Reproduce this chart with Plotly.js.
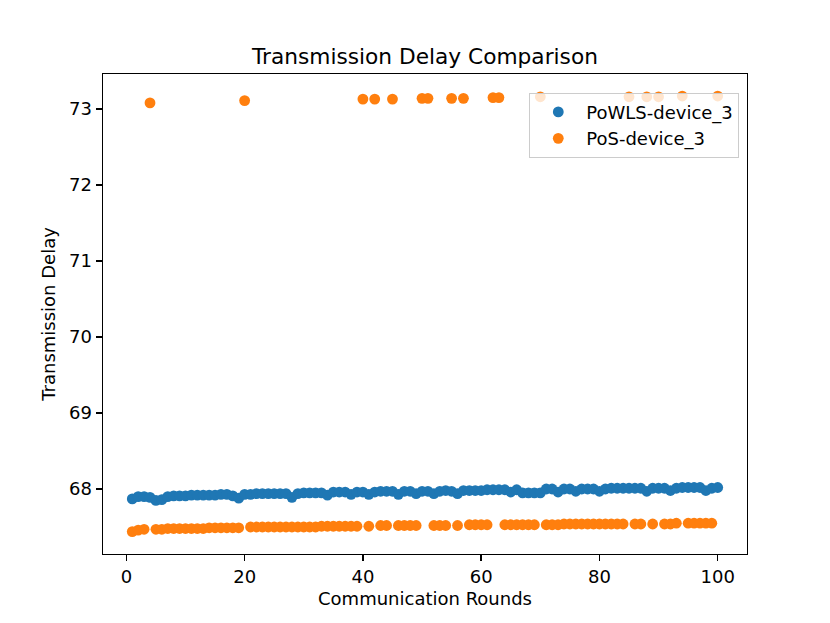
<!DOCTYPE html>
<html>
<head>
<meta charset="utf-8">
<script src="https://cdn.plot.ly/plotly-3.0.1.min.js"></script>
<style>
  html, body { margin: 0; padding: 0; background: #fff; }
  #chart { width: 830px; height: 623px; }
</style>
</head>
<body>
<div id="chart"></div>
<script>
// communication rounds 1..100
var rounds = [
    1, 2, 3, 4, 5, 6, 7, 8, 9, 10,
    11, 12, 13, 14, 15, 16, 17, 18, 19, 20,
    21, 22, 23, 24, 25, 26, 27, 28, 29, 30,
    31, 32, 33, 34, 35, 36, 37, 38, 39, 40,
    41, 42, 43, 44, 45, 46, 47, 48, 49, 50,
    51, 52, 53, 54, 55, 56, 57, 58, 59, 60,
    61, 62, 63, 64, 65, 66, 67, 68, 69, 70,
    71, 72, 73, 74, 75, 76, 77, 78, 79, 80,
    81, 82, 83, 84, 85, 86, 87, 88, 89, 90,
    91, 92, 93, 94, 95, 96, 97, 98, 99, 100
];

// PoWLS-device_3 delay
var powlsDelay = [
    67.87, 67.90, 67.90, 67.89, 67.85, 67.86, 67.90, 67.91, 67.91, 67.91,
    67.92, 67.92, 67.92, 67.92, 67.92, 67.93, 67.93, 67.91, 67.88, 67.93,
    67.93, 67.94, 67.94, 67.94, 67.94, 67.94, 67.94, 67.89, 67.94, 67.95,
    67.95, 67.95, 67.95, 67.92, 67.96, 67.96, 67.96, 67.93, 67.96, 67.96,
    67.93, 67.96, 67.97, 67.97, 67.97, 67.93, 67.97, 67.97, 67.94, 67.97,
    67.97, 67.94, 67.97, 67.98, 67.97, 67.94, 67.98, 67.98, 67.98, 67.98,
    67.99, 67.99, 67.99, 67.99, 67.96, 67.99, 67.95, 67.95, 67.95, 67.95,
    68.00, 68.00, 67.96, 68.00, 68.00, 67.97, 68.00, 68.00, 68.00, 67.97,
    68.00, 68.01, 68.01, 68.01, 68.01, 68.01, 68.01, 67.97, 68.01, 68.01,
    68.01, 67.98, 68.01, 68.02, 68.02, 68.02, 68.02, 67.98, 68.01, 68.02
];

// PoS-device_3 delay (some rounds jump to ~73.1)
var posDelay = [
    67.44, 67.46, 67.47, 73.08, 67.47, 67.47, 67.48, 67.48, 67.48, 67.48,
    67.48, 67.48, 67.48, 67.49, 67.49, 67.49, 67.49, 67.49, 67.49, 73.11,
    67.50, 67.50, 67.50, 67.50, 67.50, 67.50, 67.50, 67.50, 67.50, 67.50,
    67.50, 67.50, 67.51, 67.51, 67.51, 67.51, 67.51, 67.51, 67.51, 73.13,
    67.51, 73.13, 67.52, 67.52, 73.13, 67.52, 67.52, 67.52, 67.52, 73.14,
    73.14, 67.52, 67.52, 67.52, 73.14, 67.52, 73.14, 67.53, 67.53, 67.53,
    67.53, 73.15, 73.15, 67.53, 67.53, 67.53, 67.53, 67.53, 67.53, 73.16,
    67.53, 67.53, 67.53, 67.54, 67.54, 67.54, 67.54, 67.54, 67.54, 67.54,
    67.54, 67.54, 67.54, 67.54, 73.16, 67.54, 67.54, 73.16, 67.54, 73.16,
    67.54, 67.54, 67.55, 73.17, 67.55, 67.55, 67.55, 67.55, 67.55, 73.17
];

var font = 'DejaVu Sans, Liberation Sans, sans-serif';

var data = [
    {
        type: 'scatter',
        mode: 'markers',
        x: rounds,
        y: powlsDelay,
        name: 'PoWLS-device_3',
        marker: { color: '#1f77b4', size: 10.8 }
    },
    {
        type: 'scatter',
        mode: 'markers',
        x: rounds,
        y: posDelay,
        name: 'PoS-device_3',
        marker: { color: '#ff7f0e', size: 10.8 }
    }
];

var axisStyle = {
    showline: true,
    mirror: true,
    linecolor: '#000',
    linewidth: 1.4,
    showgrid: false,
    zeroline: false,
    ticks: 'outside',
    ticklen: 6,
    tickwidth: 1.4,
    tickcolor: '#000',
    tickfont: { family: font, size: 18, color: '#000' }
};

var layout = {
    width: 830,
    height: 623,
    paper_bgcolor: '#fff',
    plot_bgcolor: '#fff',
    margin: { l: 103, r: 83, t: 74, b: 69 },
    showlegend: true,
    title: {
        text: 'Transmission Delay Comparison',
        font: { family: font, size: 21.7, color: '#000' },
        x: 0.512,
        xanchor: 'center',
        y: 0.909,
        yanchor: 'middle'
    },
    xaxis: Object.assign({}, axisStyle, {
        range: [-3.95, 104.95],
        tickvals: [0, 20, 40, 60, 80, 100],
        title: { text: 'Communication Rounds', font: { family: font, size: 18, color: '#000' }, standoff: 6 }
    }),
    yaxis: Object.assign({}, axisStyle, {
        range: [67.145, 73.46],
        tickvals: [68, 69, 70, 71, 72, 73],
        title: { text: 'Transmission Delay', font: { family: font, size: 18, color: '#000' }, standoff: 8 }
    }),
    legend: {
        x: 0.988,
        xanchor: 'right',
        y: 0.961,
        yanchor: 'top',
        bgcolor: 'rgba(255,255,255,0.8)',
        bordercolor: '#cccccc',
        borderwidth: 1,
        itemwidth: 46,
        font: { family: font, size: 18, color: '#000' }
    }
};

Plotly.newPlot('chart', data, layout, { displayModeBar: false, staticPlot: true });
</script>
</body>
</html>
